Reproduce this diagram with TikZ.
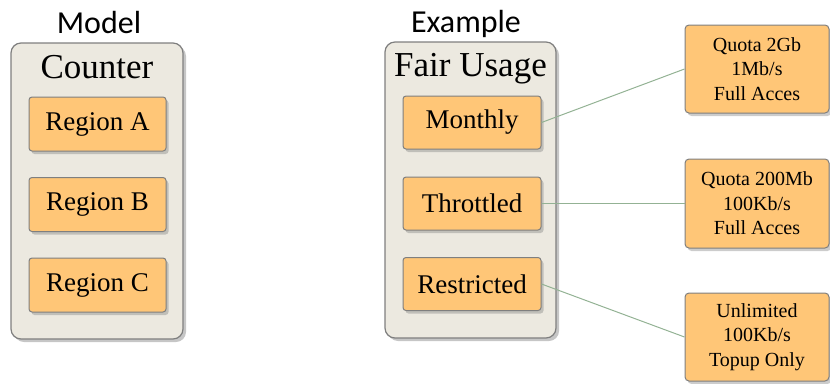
\documentclass[tikz,border=0pt]{standalone}
\usepackage{fontspec}
\setmainfont{Liberation Serif}
\newfontfamily\labelfont{Carlito}
\usetikzlibrary{shadows}
\definecolor{panelfill}{HTML}{ECE9E0}
\definecolor{boxfill}{HTML}{FFC677}
\definecolor{edgegray}{HTML}{7F7F7F}
\definecolor{linkgreen}{HTML}{93B294}
\tikzset{
  panel/.style={draw=edgegray, line width=1.2pt, fill=panelfill, rounded corners=10pt,
    drop shadow={opacity=0.45, shadow xshift=3pt, shadow yshift=-3pt},
    minimum width=172pt, minimum height=296pt, inner sep=0pt},
  itembox/.style={draw=edgegray, line width=1pt, fill=boxfill, rounded corners=3pt,
    drop shadow={opacity=0.4, shadow xshift=2.5pt, shadow yshift=-3pt},
    minimum width=137pt, minimum height=54pt, inner sep=0pt,
    font=\fontsize{27}{32}\selectfont},
  infobox/.style={draw=edgegray, line width=1pt, fill=boxfill, rounded corners=4pt,
    drop shadow={opacity=0.4, shadow xshift=2.5pt, shadow yshift=-3pt},
    minimum width=144pt, minimum height=88pt, inner sep=0pt, align=center,
    font=\fontsize{20}{24.5}\selectfont},
  paneltitle/.style={font=\fontsize{35}{40}\selectfont, anchor=base, inner sep=0pt},
  heading/.style={font=\labelfont\fontsize{32}{36}\selectfont, anchor=base, inner sep=0pt},
  link/.style={draw=linkgreen, line width=1pt}
}
\begin{document}
\begin{tikzpicture}[x=1pt, y=-1pt]
\useasboundingbox (0,0) rectangle (830,383);
% headings
\node[heading] (hmodel) at (99,33) {Model};
\node[heading] (hexample) at (466,32) {Example};
% model panel
\node[panel] (counter) at (97,191) {};
\node[paneltitle] (countertitle) at (97,78) {Counter};
\node[itembox] (ra) at (97.5,124) {Region A};
\node[itembox] (rb) at (97.5,204.5) {Region B};
\node[itembox] (rc) at (97.5,285) {Region C};
% example panel
\node[panel, minimum width=171pt] (fair) at (470.5,190) {};
\node[paneltitle] (fairtitle) at (470.5,76) {Fair Usage};
\node[itembox, minimum width=138pt, minimum height=53pt] (monthly) at (472,122.5) {Monthly};
\node[itembox, minimum width=138pt, minimum height=53pt] (throttled) at (472,203.5) {Throttled};
\node[itembox, minimum width=138pt, minimum height=53pt] (restricted) at (472,284) {Restricted};
% info boxes
\node[infobox] (q1) at (757,69) {Quota 2Gb\\1Mb/s\\Full Acces};
\node[infobox, minimum height=89pt] (q2) at (757,203.5) {Quota 200Mb\\100Kb/s\\Full Acces};
\node[infobox] (q3) at (757,337) {Unlimited\\100Kb/s\\Topup Only};
% links
\draw[link] (monthly.east) -- (q1.west);
\draw[link] (throttled.east) -- (q2.west);
\draw[link] (restricted.east) -- (q3.west);
\end{tikzpicture}
\end{document}
